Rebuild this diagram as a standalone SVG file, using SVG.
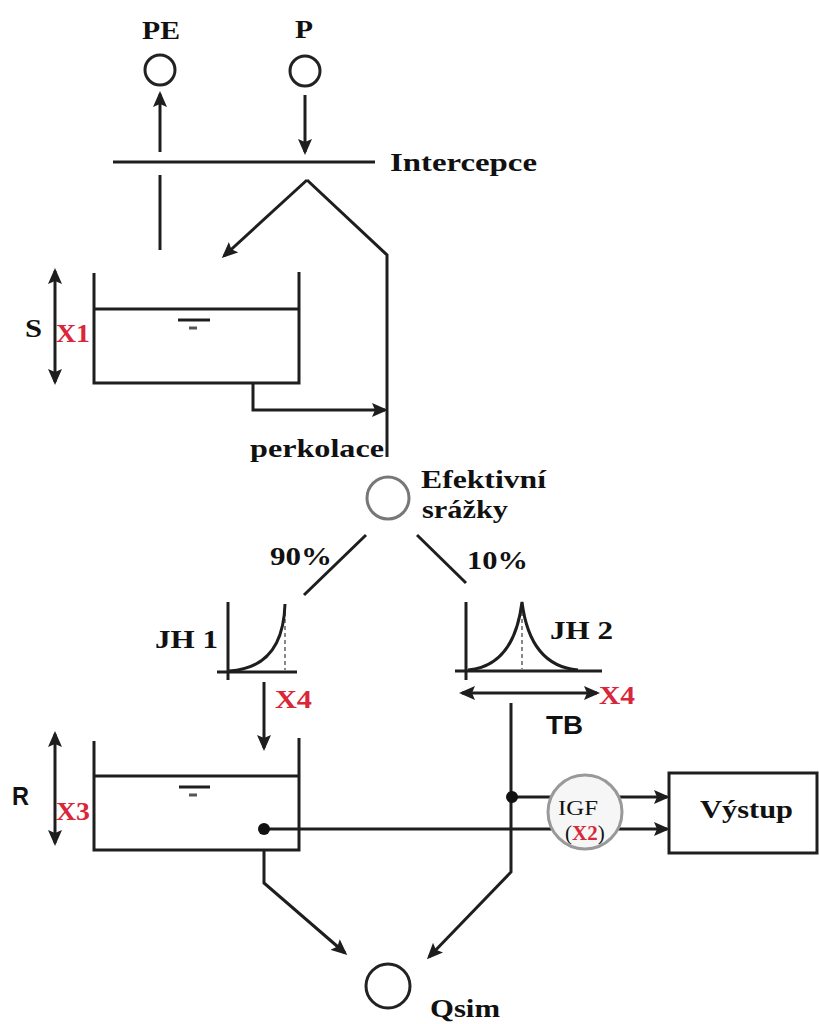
<svg xmlns="http://www.w3.org/2000/svg" width="819" height="1024" viewBox="0 0 819 1024">
<style>
.ln{fill:none;stroke:#1e1e1e;stroke-width:3}
.thin{fill:none;stroke:#1e1e1e;stroke-width:2.5}
.dot{fill:none;stroke:#888;stroke-width:2;stroke-dasharray:4 3}
.circ{fill:#fff;stroke:#222;stroke-width:3}
.gcirc{fill:#fff;stroke:#777;stroke-width:3}
.t{font-family:"Liberation Serif","Times New Roman",serif;font-weight:bold;font-size:25px;fill:#111}
.red{font-family:"Liberation Serif","Times New Roman",serif;font-weight:bold;font-size:25px;fill:#d92638}
.sans{font-family:"Liberation Sans",Arial,sans-serif;font-weight:bold;font-size:25px;fill:#111}
.small{font-family:"Liberation Serif","Times New Roman",serif;font-size:21px;fill:#111}
</style>
<defs>
<marker id="ah" viewBox="0 0 16 14" refX="13" refY="7" markerWidth="16" markerHeight="14" markerUnits="userSpaceOnUse" orient="auto-start-reverse">
<path d="M0,0 L16,7 L0,14 L3,7 z" fill="#1e1e1e"/>
</marker>
</defs>

<g id="connectors">
<line class="ln" x1="160" y1="152" x2="160" y2="94" marker-end="url(#ah)"/>
<line class="ln" x1="160" y1="175" x2="160" y2="250"/>
<line class="ln" x1="305" y1="95" x2="305" y2="152" marker-end="url(#ah)"/>
<line class="ln" x1="307" y1="180" x2="224" y2="256" marker-end="url(#ah)"/>
<polyline class="ln" points="307,180 387,255 387,457"/>
<polyline class="ln" points="253,383 253,410 385,410" marker-end="url(#ah)"/>
<line class="ln" x1="366" y1="535" x2="304" y2="595"/>
<line class="ln" x1="417" y1="535" x2="466" y2="583"/>
<line class="ln" x1="264" y1="682" x2="264" y2="748" marker-end="url(#ah)"/>
<polyline class="ln" points="511,703 511,872 429,957" marker-end="url(#ah)"/>
<polyline class="ln" points="264,850 264,883 345,953" marker-end="url(#ah)"/>
<line class="ln" x1="512" y1="797" x2="667" y2="797" marker-end="url(#ah)"/>
<line class="ln" x1="264" y1="829" x2="667" y2="829" marker-end="url(#ah)"/>
<line class="ln" x1="462" y1="693" x2="597" y2="693" marker-start="url(#ah)" marker-end="url(#ah)"/>
<line class="ln" x1="55" y1="271" x2="55" y2="382" marker-start="url(#ah)" marker-end="url(#ah)"/>
<line class="ln" x1="55" y1="734" x2="55" y2="843" marker-start="url(#ah)" marker-end="url(#ah)"/>
<circle cx="512" cy="797" r="6" fill="#111"/>
<circle cx="264" cy="829" r="6" fill="#111"/>
</g>

<g id="PE">
<circle class="circ" cx="160" cy="70" r="15"/>
<text class="t" x="142" y="39" textLength="38" lengthAdjust="spacingAndGlyphs">PE</text>
</g>

<g id="P">
<circle class="circ" cx="305" cy="71" r="15"/>
<text class="t" x="295" y="38" textLength="18" lengthAdjust="spacingAndGlyphs">P</text>
</g>

<g id="intercepce">
<line class="ln" x1="113" y1="162" x2="375" y2="162"/>
<text class="t" x="390" y="171" textLength="147" lengthAdjust="spacingAndGlyphs">Intercepce</text>
</g>

<g id="S">
<path class="ln" d="M94,273 V383 H299 V272"/>
<line class="ln" x1="94" y1="309" x2="299" y2="309"/>
<line class="ln" x1="178" y1="320" x2="210" y2="320"/>
<line x1="189" y1="328" x2="197" y2="328" stroke="#555" stroke-width="3"/>
<text class="t" x="25" y="337" textLength="17" lengthAdjust="spacingAndGlyphs">S</text>
<text class="red" x="56" y="342" textLength="34" lengthAdjust="spacingAndGlyphs">X1</text>
</g>

<g id="perkolace">
<text class="t" x="250" y="457" textLength="134" lengthAdjust="spacingAndGlyphs">perkolace</text>
</g>

<g id="efektivni">
<circle class="gcirc" cx="388" cy="498" r="21"/>
<text class="t" x="421" y="488" textLength="125" lengthAdjust="spacingAndGlyphs">Efektivní</text>
<text class="t" x="422" y="518" textLength="86" lengthAdjust="spacingAndGlyphs">srážky</text>
<text class="t" x="270" y="565" textLength="62" lengthAdjust="spacingAndGlyphs">90%</text>
<text class="t" x="467" y="569" textLength="61" lengthAdjust="spacingAndGlyphs">10%</text>
</g>

<g id="JH1">
<line class="ln" x1="228" y1="602" x2="228" y2="680"/>
<line class="ln" x1="217" y1="672" x2="297" y2="672"/>
<line class="dot" x1="285" y1="612" x2="285" y2="670"/>
<path class="ln" d="M229,671 Q283,668 285,604"/>
<text class="t" x="155" y="648" textLength="63" lengthAdjust="spacingAndGlyphs">JH 1</text>
<text class="red" x="275" y="708" textLength="37" lengthAdjust="spacingAndGlyphs">X4</text>
</g>

<g id="JH2">
<line class="ln" x1="466" y1="602" x2="466" y2="680"/>
<line class="ln" x1="455" y1="671" x2="602" y2="671"/>
<line class="dot" x1="522" y1="612" x2="522" y2="669"/>
<path class="ln" d="M468,670 Q514,666 522,602 Q530,666 578,670"/>
<text class="t" x="550" y="639" textLength="63" lengthAdjust="spacingAndGlyphs">JH 2</text>
<text class="red" x="599" y="704" textLength="36" lengthAdjust="spacingAndGlyphs">X4</text>
<text class="sans" x="546" y="734" textLength="37" lengthAdjust="spacingAndGlyphs">TB</text>
</g>

<g id="R">
<path class="ln" d="M94,741 V850 H299 V738"/>
<line class="ln" x1="94" y1="776" x2="299" y2="776"/>
<line class="ln" x1="179" y1="787" x2="210" y2="787"/>
<line x1="189" y1="795" x2="197" y2="795" stroke="#555" stroke-width="3"/>
<text class="sans" x="12" y="805" textLength="17" lengthAdjust="spacingAndGlyphs">R</text>
<text class="red" x="56" y="820" textLength="34" lengthAdjust="spacingAndGlyphs">X3</text>
</g>

<g id="IGF">
<ellipse cx="585" cy="812" rx="37" ry="37" fill="#f6f6f6" stroke="#999" stroke-width="3"/>
<text class="small" x="558" y="815" textLength="40" lengthAdjust="spacingAndGlyphs">IGF</text>
<text class="small" x="565" y="840">(<tspan fill="#d92638" font-weight="bold">X2</tspan>)</text>
</g>

<g id="vystup">
<rect x="669" y="773" width="148" height="80" fill="#fff" stroke="#1e1e1e" stroke-width="3"/>
<text class="t" x="700" y="818" textLength="93" lengthAdjust="spacingAndGlyphs">Výstup</text>
</g>

<g id="Qsim">
<circle class="circ" cx="388" cy="986" r="22"/>
<text class="t" x="430" y="1017" textLength="70" lengthAdjust="spacingAndGlyphs">Qsim</text>
</g>
</svg>
